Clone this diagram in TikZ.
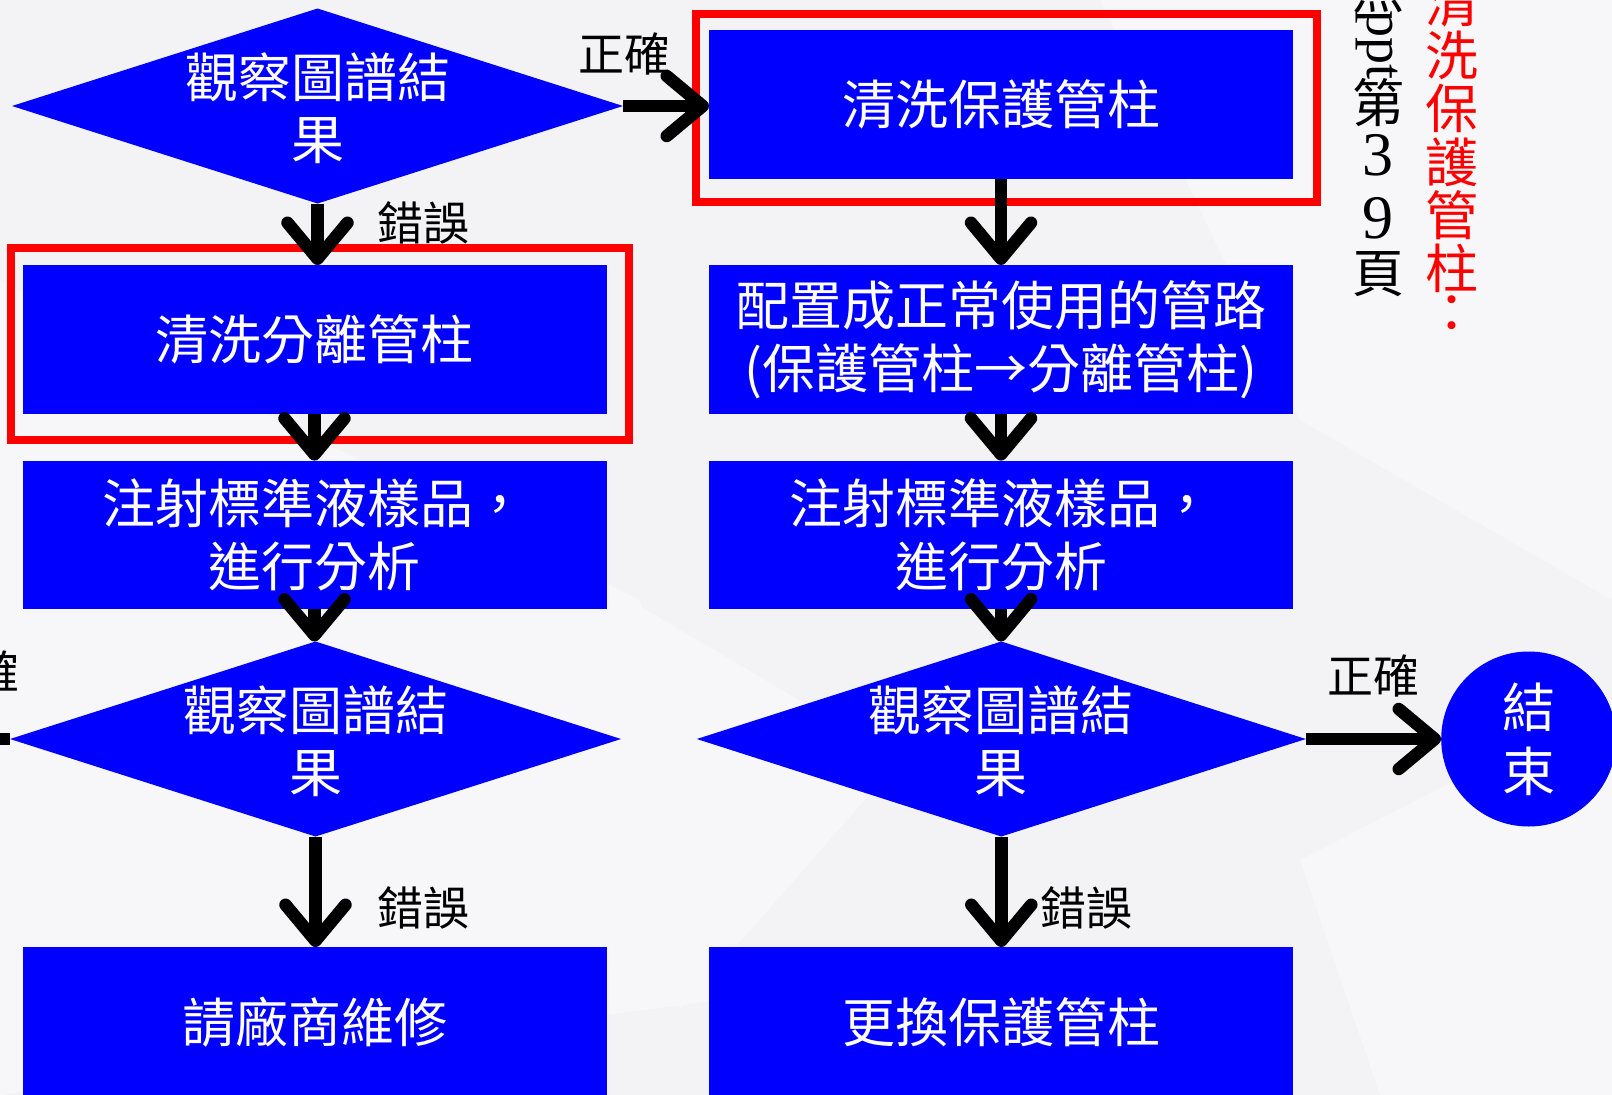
\documentclass[tikz,border=0pt]{standalone}
\usepackage{fontspec}
\newfontfamily\cjk{Noto Sans CJK TC}
\newfontfamily\lserif{Liberation Serif}
\usetikzlibrary{shapes.geometric,arrows.meta}
\definecolor{bgc}{RGB}{243,243,245}
\definecolor{bgl}{RGB}{247,247,249}
\definecolor{pblue}{RGB}{0,0,255}
\definecolor{pred}{RGB}{255,0,0}
\tikzset{
  box/.style={fill=pblue, inner sep=0pt, outer sep=0pt, minimum width=584pt, minimum height=149pt,
    text=white, font=\cjk\fontsize{53}{63}\selectfont, align=center},
  dia/.style={diamond, fill=pblue, inner sep=0pt, outer sep=0pt, minimum width=611pt, minimum height=195pt},
  dtext/.style={text=white, font=\cjk\fontsize{53}{62}\selectfont, align=center, inner sep=0pt},
  redbox/.style={draw=pred, line width=8pt, inner sep=0pt, outer sep=0pt},
  arr/.style={line width=12.5pt, -{Straight Barb[round,length=36pt,width=60pt]}},
  lbl/.style={font=\cjk\fontsize{46}{50}\selectfont, text=black, inner sep=0pt},
  vblack/.style={font=\cjk\fontsize{52}{52}\selectfont, text=black, inner sep=0pt, anchor=base},
  vred/.style={font=\cjk\fontsize{53}{53}\selectfont, text=pred, inner sep=0pt, anchor=base},
}
\begin{document}
\begin{tikzpicture}[x=1pt,y=-1pt]
\useasboundingbox (0,0) rectangle (1612,1095);
\clip (0,0) rectangle (1612,1095);
% background
\fill[bgc] (0,0) rectangle (1612,1095);
\fill[bgl] (0,280) -- (640,600) -- (720,1000) -- (0,1095) -- cycle;
\fill[bgl] (630,600) -- (900,760) -- (680,1010) -- cycle;
\fill[bgl] (1100,0) -- (1612,0) -- (1612,600) -- (1300,420) -- cycle;
\fill[bgl] (1300,860) -- (1612,700) -- (1612,1095) -- (1380,1095) -- cycle;

% blue boxes
\node[box] (b1) at (1001,104.4) {清洗保護管柱};
\node[box] (b2) at (314.5,339.5) {清洗分離管柱};
\node[box] (b3) at (1001,339.5) {配置成正常使用的管路\\(保護管柱→分離管柱)};
\node[box, minimum height=148pt] (b4) at (314.5,534.6) {注射標準液樣品，\\進行分析};
\node[box, minimum height=148pt] (b5) at (1001,534.6) {注射標準液樣品，\\進行分析};
\node[box, minimum height=150pt] (b6) at (314.5,1022) {請廠商維修};
\node[box, minimum height=150pt] (b7) at (1001,1022) {更換保護管柱};

% diamonds
\node[dia] (d1) at (317.5,106) {};
\node[dtext] (d1t) at (317.5,108) {觀察圖譜結\\果};
\node[dia] (d2) at (315.5,739) {};
\node[dtext] (d2t) at (315.5,741) {觀察圖譜結\\果};
\node[dia, minimum width=609pt] (d3) at (1001.3,739) {};
\node[dtext] (d3t) at (1001.3,741) {觀察圖譜結\\果};

% end circle
\node[circle, fill=pblue, minimum size=175pt, inner sep=0pt, text=white,
  font=\cjk\fontsize{53}{64}\selectfont, align=center] (c) at (1528.7,739) {結\\束};

% red highlight boxes
\node[redbox, minimum width=621pt, minimum height=188pt] (r1) at (1006.5,108) {};
\node[redbox, minimum width=618pt, minimum height=192pt] (r2) at (320,344) {};

% connectors
\draw[arr] (d1.east) -- (d1.east -| b1.west);
\draw[arr] (d1.south) -- (d1.south |- b2.north);
\draw[arr] (b2.south) -- (b4.north);
\draw[arr] (b4.south) -- (b4.south |- d2.north);
\draw[arr] (d2.south) -- (d2.south |- b6.north);
\draw[arr] (b1.south) -- (b3.north);
\draw[arr] (b3.south) -- (b5.north);
\draw[arr] (b5.south) -- (b5.south |- d3.north);
\draw[arr] (d3.south) -- (d3.south |- b7.north);
\draw[arr] (d3.east) -- (c.west);
\coordinate (lout) at (-70,739);
\draw[arr] (d2.west) -- (lout);

% labels
\node[lbl] (l1) at (624,54) {正確};
\node[lbl] (l2) at (423,223) {錯誤};
\node[lbl] (l3) at (423,908) {錯誤};
\node[lbl] (l4) at (1086,908) {錯誤};
\node[lbl] (l5) at (1373,676) {正確};
\node[lbl] (l6) at (-26,672) {正確};

% vertical black note
\node[vblack] (v0) at (1378,8) {照};
\node[font=\lserif\fontsize{54}{54}\selectfont, rotate=-90, inner sep=0pt] (vppt) at (1377,45) {ppt};
\node[vblack] (v1) at (1378,122) {第};
\node[font=\lserif\fontsize{62}{62}\selectfont, inner sep=0pt] (v2) at (1378,155) {3};
\node[font=\lserif\fontsize{62}{62}\selectfont, inner sep=0pt] (v3) at (1378,218) {9};
\node[vblack] (v4) at (1378,292) {頁};

% vertical red note
\node[vred] (w0) at (1452,22) {清};
\node[vred] (w1) at (1452,75) {洗};
\node[vred] (w2) at (1452,128) {保};
\node[vred] (w3) at (1452,182) {護};
\node[vred] (w4) at (1452,235) {管};
\node[vred] (w5) at (1452,288) {柱};
\node[font=\cjk\fontsize{53}{53}\selectfont, text=pred, inner sep=0pt] (w6) at (1452,314) {：};
\end{tikzpicture}
\end{document}
